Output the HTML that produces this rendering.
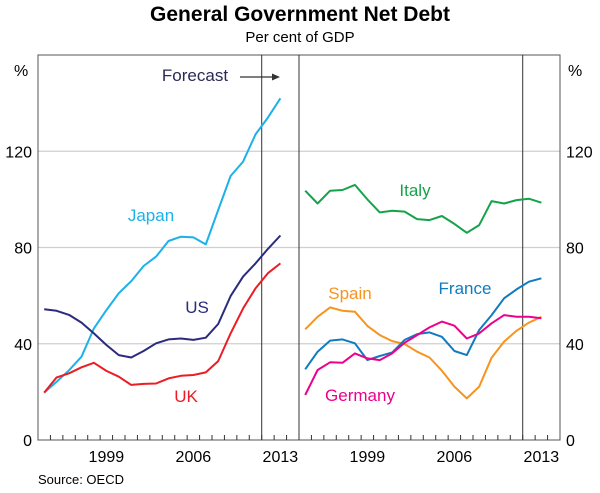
<!DOCTYPE html>
<html><head><meta charset="utf-8"><style>
body{margin:0;background:#fff;font-family:"Liberation Sans",Arial,sans-serif}
svg text{font-family:"Liberation Sans",Arial,sans-serif}
</style></head><body>
<svg width="600" height="488" viewBox="0 0 600 488">
<text x="300" y="21" text-anchor="middle" font-size="21" font-weight="bold" fill="#000">General Government Net Debt</text>
<text x="300" y="42" text-anchor="middle" font-size="15" fill="#000">Per cent of GDP</text>
<g id="grid"></g>
<g id="axes"></g>
<g id="series"></g>
<text x="38" y="484" font-size="13" fill="#000">Source: OECD</text>
</svg>
<script>
const years = [1994,1995,1996,1997,1998,1999,2000,2001,2002,2003,2004,2005,2006,2007,2008,2009,2010,2011,2012,2013];
const yTicks = [0,40,80,120];
const xTickLabels = [1999,2006,2013];
const japan = [19.7,24.2,29,34.6,46.4,54,61,66,72.3,76.2,82.7,84.5,84.2,81.3,95.6,109.7,115.7,127,134,142];
const us = [54.3,53.7,52,48.8,44.3,39.5,35.3,34.3,37,40.2,41.8,42.2,41.6,42.5,48.2,59.8,67.9,73.4,79.4,85];
const uk = [19.7,26,27.7,30.2,32.1,28.7,26.3,22.9,23.3,23.5,25.6,26.7,27,28.1,32.8,44.3,54.7,63,69.3,73.4];
const italy = [103.6,98.3,103.6,103.9,106,100,94.6,95.3,94.9,91.8,91.4,93.1,89.8,86.1,89.3,99.3,98.3,99.7,100.3,98.6];
const spain = [46,51.2,55.1,53.7,53.3,47.4,43.6,41.1,39.9,36.7,34.3,28.8,22.2,17.3,22.2,34.2,40.9,45.4,48.8,51.2];
const france = [29.4,36.7,41.3,41.8,40.2,33.2,34.9,36.4,41.6,44,44.7,42.9,37,35.3,45.7,51.9,58.9,62.6,65.8,67.2];
const germany = [18.7,29.1,32.3,32.1,36,33.9,33.2,36,40.4,43.6,46.8,49.2,47.5,42.2,44.3,48.5,51.9,51.2,51.2,50.6];

const NS="http://www.w3.org/2000/svg";
const L=38, M=299, R=560, T=55, B=440, band=(M-L)/21;
const y=v=>B-(v/160)*(B-T);
const x=(p,yr)=>p+(yr-1994+0.5)*band;
function mk(tag,attrs,parent,txt){const e=document.createElementNS(NS,tag);for(const k in attrs)e.setAttribute(k,attrs[k]);if(txt!==undefined)e.textContent=txt;document.getElementById(parent).appendChild(e);return e;}
// grid
yTicks.forEach(t=>{if(t>0){const g=mk('line',{x1:L,x2:R,y1:y(t),y2:y(t),stroke:'#cfcfcf','stroke-width':1.2},'grid');

}
const a=mk('text',{x:32,y:y(t)+6,'text-anchor':'end','font-size':16},'axes',t);


const b=mk('text',{x:566,y:y(t)+6,'font-size':16},'axes',t);

});
const p1=mk('text',{x:14,y:76,'font-size':16},'axes','%');
const p2=mk('text',{x:568,y:76,'font-size':16},'axes','%');
const fr=mk('rect',{x:L,y:T,width:R-L,height:B-T,fill:'none',stroke:'#555','stroke-width':1},'axes');

const dv=mk('line',{x1:M,x2:M,y1:T,y2:B,stroke:'#333','stroke-width':1},'axes');

[L,M].forEach((p,pi)=>{
 for(let i=1;i<21;i++){const t=mk('line',{x1:p+i*band,x2:p+i*band,y1:B,y2:B-5,stroke:'#333'},'axes');
 }
 const fx=p+18*band;
 const fl=mk('line',{x1:fx,x2:fx,y1:T,y2:B,stroke:'#333','stroke-width':1},'axes');
 
 xTickLabels.forEach(yr=>{const t=mk('text',{x:x(p,yr),y:462,'text-anchor':'middle','font-size':16},'axes',yr);
 });
});
function series(data,p,color,name){const d=data.map((v,i)=>(i?'L':'M')+x(p,years[i]).toFixed(1)+','+y(v).toFixed(1)).join('');
 const e=mk('path',{d:d,fill:'none',stroke:color,'stroke-width':2,'stroke-linejoin':'round'},'series');
 }
series(japan,L,'#1cb1ea','japan');series(us,L,'#2a2a7e','us');series(uk,L,'#ec1c24','uk');
series(italy,M,'#14a34a','italy');series(spain,M,'#f7941d','spain');series(france,M,'#0f7cc1','france');series(germany,M,'#ec008c','germany');
function lab(t,xx,yy,c,n){const e=mk('text',{x:xx,y:yy,'font-size':17,fill:c,'text-anchor':'middle'},'series',t);
 }
lab('Japan',151,221,'#1cb1ea','japan-label');lab('US',197,313,'#2a2a7e','us-label');lab('UK',186,402,'#ec1c24','uk-label');
lab('Italy',415,196,'#14a34a','italy-label');lab('Spain',350,299,'#f7941d','spain-label');lab('France',465,294,'#0f7cc1','france-label');lab('Germany',360,401,'#ec008c','germany-label');
lab('Forecast',195,81,'#2a2a55','forecast-label');
const ar=mk('line',{x1:240,x2:276,y1:77,y2:77,stroke:'#333','stroke-width':1.2},'series');
const ah=mk('path',{d:'M280,77 L272,73.5 L272,80.5 Z',fill:'#333'},'series');
</script>
</body></html>
